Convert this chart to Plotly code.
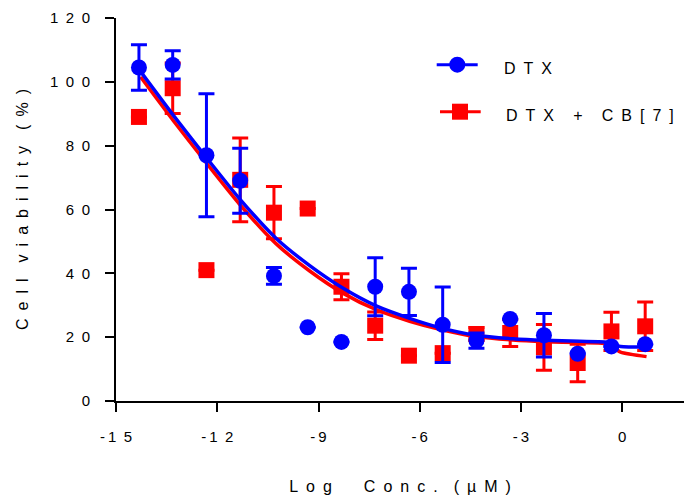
import plotly.graph_objects as go

# Log concentration (µM) of each dilution
log_conc = [-14.32, -13.32, -12.32, -11.32, -10.32, -9.32, -8.32, -7.32,
            -6.32, -5.32, -4.32, -3.32, -2.32, -1.32, -0.32, 0.68]

# Cell viability (%) — DTX alone
dtx_mean = [104.5, 105.3, 77.0, 69.0, 39.2, 23.1, 18.5, 35.8,
            34.2, 23.9, 18.9, 25.7, 20.6, 14.8, 17.1, 17.8]
dtx_err = [7.1, 4.4, 19.3, 10.2, 2.6, 0, 0, 9.1,
           7.4, 11.8, 2.4, 0, 6.8, 0, 0, 0]

# Cell viability (%) — DTX + CB[7]
cb7_mean = [89.0, 98.0, 41.0, 69.3, 59.0, 60.3, 35.8, 23.6,
            14.2, 15.0, 21.0, 21.3, 16.8, 11.9, 21.8, 23.4]
cb7_err = [0, 7.9, 0, 13.1, 8.2, 0, 4.1, 4.3,
           0, 0, 2.0, 4.2, 7.2, 5.9, 6.0, 7.6]

# Fitted dose-response curves
fit_x = [-14.27, -13.3, -12.34, -11.35, -10.26, -9.27, -8.28, -7.29, -6.30,
         -5.41, -4.33, -3.24, -2.30, -1.26, -0.52, -0.05, 0.72]
dtx_fit = [103.2, 89.5, 76.5, 63.5, 51.0, 42.5, 35.4, 29.8, 25.9,
           23.0, 20.6, 19.5, 19.0, 18.7, 18.5, 17.1, 16.9]
cb7_fit = [101.5, 87.8, 74.8, 61.8, 49.3, 40.8, 33.8, 28.6, 25.0,
           22.5, 20.2, 19.1, 18.6, 18.3, 18.0, 15.3, 13.9]

x_ticks = [-15, -12, -9, -6, -3, 0]
y_ticks = [0, 20, 40, 60, 80, 100, 120]

BLUE = "#0000FF"
RED = "#FF0000"
FONT = "Liberation Sans, Arial, sans-serif"
EN = "\u2002"
THIN = "\u2009"


def spaced(text, word_sep=EN * 2):
    """Wide letter spacing in the style of the axis labels."""
    words = text.split(" ")
    return word_sep.join(EN.join(w) for w in words)


def tick_label(v):
    s = str(abs(v))
    body = EN.join(s)
    return "-" + THIN + body if v < 0 else body


W, H = 684, 501
ML, MR, MT, MB = 116, 0, 18, 100


def px(xp):
    return (xp - ML) / (W - ML - MR)


def py(yp):
    return (H - MB - yp) / (H - MT - MB)


fig = go.Figure()

fig.add_trace(go.Scatter(
    x=log_conc, y=cb7_mean, mode="markers", name="DTX + CB[7]",
    marker=dict(symbol="square", size=16, color=RED, line=dict(width=0)),
    error_y=dict(type="data", array=cb7_err, visible=True,
                 color=RED, thickness=3, width=8),
    showlegend=False))
fig.add_trace(go.Scatter(
    x=fit_x, y=cb7_fit, mode="lines",
    line=dict(color=RED, width=3.5, shape="spline", smoothing=0.6),
    showlegend=False, hoverinfo="skip"))
fig.add_trace(go.Scatter(
    x=log_conc, y=dtx_mean, mode="markers", name="DTX",
    marker=dict(symbol="circle", size=16, color=BLUE, line=dict(width=0)),
    error_y=dict(type="data", array=dtx_err, visible=True,
                 color=BLUE, thickness=3, width=8),
    showlegend=False))
fig.add_trace(go.Scatter(
    x=fit_x, y=dtx_fit, mode="lines",
    line=dict(color=BLUE, width=3.5, shape="spline", smoothing=0.6),
    showlegend=False, hoverinfo="skip"))

# Legend drawn as shapes + text
shapes = []
annotations = []
legend_rows = [
    ("DTX", BLUE, "circle", 436.7, 477.7, 64.7, 457.3, 501.7, 68.3),
    ("DTX + CB[7]", RED, "rect", 440.0, 480.7, 111.7, 460.0, 504.3, 116.0),
]
for label, color, kind, x0, x1, yl, xm, xt, yt in legend_rows:
    shapes.append(dict(type="line", xref="paper", yref="paper",
                       x0=px(x0), x1=px(x1), y0=py(yl), y1=py(yl),
                       line=dict(color=color, width=3)))
    shapes.append(dict(type=kind, xref="paper", yref="paper",
                       xsizemode="pixel", ysizemode="pixel",
                       xanchor=px(xm), yanchor=py(yl),
                       x0=-8, x1=8, y0=-8, y1=8,
                       fillcolor=color, line=dict(width=0)))
    annotations.append(dict(xref="paper", yref="paper", x=px(xt), y=py(yt),
                            xanchor="left", yanchor="middle", showarrow=False,
                            text=spaced(label, word_sep=EN * 2 + THIN),
                            font=dict(family=FONT, size=16, color="black")))

x_title = EN.join("Log") + EN * 4 + EN.join("Conc.") + EN * 2 + EN.join("(µM)")
y_title = spaced("Cell viability (%)")

fig.update_layout(
    width=W, height=H,
    margin=dict(l=ML, r=MR, t=MT, b=MB),
    paper_bgcolor="white", plot_bgcolor="white",
    font=dict(family=FONT, color="black"),
    shapes=shapes, annotations=annotations,
    xaxis=dict(
        range=[-15, 1.83], showgrid=False, zeroline=False,
        showline=True, linecolor="black", linewidth=2,
        ticks="outside", ticklen=9, tickwidth=2, tickcolor="black",
        tickvals=x_ticks, ticktext=[tick_label(v) for v in x_ticks],
        tickfont=dict(family=FONT, size=15), ticklabelstandoff=12,
        title=dict(text=x_title, font=dict(family=FONT, size=16), standoff=37),
    ),
    yaxis=dict(
        range=[0, 120], showgrid=False, zeroline=False,
        showline=True, linecolor="black", linewidth=2,
        ticks="outside", ticklen=9, tickwidth=2, tickcolor="black",
        tickvals=y_ticks, ticktext=[tick_label(v) for v in y_ticks],
        tickfont=dict(family=FONT, size=15), ticklabelstandoff=12,
        title=dict(text=y_title, font=dict(family=FONT, size=16), standoff=17),
    ),
)

fig.write_html("out.html")
